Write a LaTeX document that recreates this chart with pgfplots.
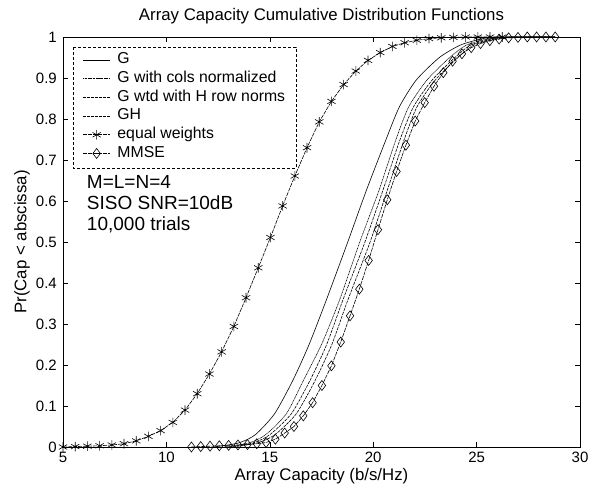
\documentclass[border=0pt]{standalone}
\usepackage{fontspec}
\setmainfont{Liberation Sans}
\usepackage{pgfplots}
\pgfplotsset{compat=1.18}
\begin{document}
\fontsize{15}{18}\selectfont
\begin{tikzpicture}[x=1pt,y=1pt]
\path[use as bounding box] (-63,-49) rectangle (526,447);
\begin{axis}[at={(0,0)},anchor=south west, scale only axis, width=517pt, height=410pt,
  xmin=5,xmax=30,ymin=0,ymax=1,
  xtick={5,10,15,20,25,30},
  ytick={0,0.1,0.2,0.3,0.4,0.5,0.6,0.7,0.8,0.9,1},
  yticklabels={0,0.1,0.2,0.3,0.4,0.5,0.6,0.7,0.8,0.9,1},
  xticklabels={5,10,15,20,25,30},
  tick align=inside, xtick pos=both, ytick pos=both,
  major tick length=5pt,
  tick style={black, line width=0.5pt},
  axis line style={line width=0.8pt},
  title={Array Capacity Cumulative Distribution Functions},
  title style={at={(0.5,1)},anchor=south,yshift=2pt,font=\fontsize{16.8}{19}\selectfont},
  xlabel={Array Capacity (b/s/Hz)},
  ylabel={Pr(Cap < abscissa)},
  xlabel style={font=\fontsize{16.8}{19}\selectfont, yshift=5pt},
  ylabel style={font=\fontsize{16.8}{19}\selectfont, yshift=-4pt},
  yticklabel style={font=\fontsize{15}{17}\selectfont, xshift=-1pt},
  xticklabel style={font=\fontsize{15}{17}\selectfont},
  legend style={at={(rel axis cs:0.038,0.963)}, anchor=north west, draw=none, fill=none,
    inner sep=0pt, row sep=3.5pt, column sep=7pt, font=\fontsize{15.8}{18}\selectfont,
    nodes={inner sep=0pt, text height=11.5pt, text depth=3.7pt}},
  legend cell align=left,
  legend image code/.code={\draw[mark repeat=2,mark phase=2,#1] plot coordinates {(0pt,0pt) (13.5pt,0pt) (27pt,0pt)};},
]
% G
\addplot[black, line width=0.6pt, smooth, tension=0.4] coordinates {
(12.3,0) (13.5,0.01) (14.3,0.03) (15.23,0.081) (16.12,0.163) (16.9,0.25) (17.73,0.358)
(18.77,0.5) (19.67,0.626) (20.62,0.75) (21.27,0.83) (22.08,0.895) (23.2,0.95) (24.2,0.98) (25.2,0.995) (26,1) (28.8,1)};
\addlegendentry{G}
% cols normalized
\addplot[black, line width=0.6pt, dash pattern=on 1pt off 0.6pt, smooth, tension=0.4] coordinates {
(12.8,0) (14.0,0.01) (14.8,0.03) (15.8,0.081) (16.63,0.163) (17.5,0.25) (18.37,0.358)
(19.35,0.5) (20.28,0.626) (21.1,0.75) (21.72,0.83) (22.6,0.895) (23.7,0.95) (24.5,0.98) (25.5,0.995) (26.5,1) (28.8,1)};
\addlegendentry{G with cols normalized}
% wtd
\addplot[black, line width=0.6pt, dash pattern=on 3pt off 1pt, smooth, tension=0.4] coordinates {
(13,0) (14.2,0.01) (15.0,0.03) (16.04,0.081) (16.95,0.163) (17.75,0.25) (18.53,0.358)
(19.6,0.5) (20.47,0.626) (21.3,0.75) (21.95,0.83) (22.85,0.895) (23.95,0.95) (24.7,0.98) (25.7,0.995) (26.6,1) (28.8,1)};
\addlegendentry{G wtd with H row norms}
% GH
\addplot[black, line width=0.6pt, dash pattern=on 3pt off 1pt, smooth, tension=0.4] coordinates {
(13.2,0) (14.4,0.01) (15.25,0.03) (16.28,0.081) (17.2,0.163) (18.0,0.25) (18.77,0.358)
(19.85,0.5) (20.68,0.626) (21.5,0.75) (22.12,0.83) (23.0,0.895) (24.1,0.95) (24.85,0.98) (25.9,0.995) (26.8,1) (28.8,1)};
\addlegendentry{GH}
% equal weights
\addplot[black, line width=0.6pt, dash pattern=on 4pt off 1pt, mark=asterisk, mark size=4.8pt, mark options={solid, line width=0.6pt}] coordinates {
(5.00,0.000) (5.59,0.001) (6.18,0.002) (6.77,0.003) (7.36,0.005) (7.95,0.008) (8.54,0.015)
(9.13,0.026) (9.72,0.040) (10.31,0.060) (10.90,0.090) (11.49,0.130) (12.08,0.178) (12.67,0.232)
(13.26,0.294) (13.85,0.364) (14.44,0.437) (15.03,0.511) (15.62,0.588) (16.21,0.661) (16.80,0.730)
(17.39,0.793) (17.98,0.843) (18.57,0.884) (19.16,0.917) (19.75,0.943) (20.34,0.962) (20.93,0.977)
(21.52,0.986) (22.11,0.992) (22.70,0.996) (23.29,0.998) (23.88,0.999) (24.47,1) (25.06,1) (25.65,1) (26.24,1)};
\addlegendentry{equal weights}
% MMSE
\addplot[black, line width=0.6pt, dash pattern=on 4pt off 1pt, mark=diamond, mark size=5pt, mark options={solid, line width=0.6pt}] coordinates {
(11.21,0.000) (11.66,0.001) (12.11,0.002) (12.56,0.003) (13.01,0.004) (13.46,0.005) (13.92,0.006)
(14.37,0.008) (14.82,0.011) (15.27,0.019) (15.72,0.034) (16.17,0.050) (16.62,0.076) (17.07,0.108)
(17.52,0.150) (17.98,0.198) (18.43,0.256) (18.88,0.320) (19.33,0.385) (19.78,0.455) (20.23,0.530)
(20.68,0.603) (21.13,0.672) (21.58,0.736) (22.03,0.795) (22.49,0.840) (22.94,0.880) (23.39,0.913)
(23.84,0.941) (24.29,0.959) (24.74,0.974) (25.19,0.984) (25.64,0.991) (26.09,0.995) (26.55,0.998)
(27.00,0.999) (27.45,1) (27.90,1) (28.35,1) (28.80,1)};
\addlegendentry{MMSE}
\draw[densely dashed, line width=0.7pt] (rel axis cs:0.0193,0.9756) rectangle (rel axis cs:0.4507,0.6805);
\node[anchor=north west, align=left, inner sep=0pt, font=\fontsize{19}{21}\selectfont] at (rel axis cs:0.046,0.663) {M=L=N=4\\SISO SNR=10dB\\10,000 trials};
\end{axis}
\end{tikzpicture}
\end{document}
